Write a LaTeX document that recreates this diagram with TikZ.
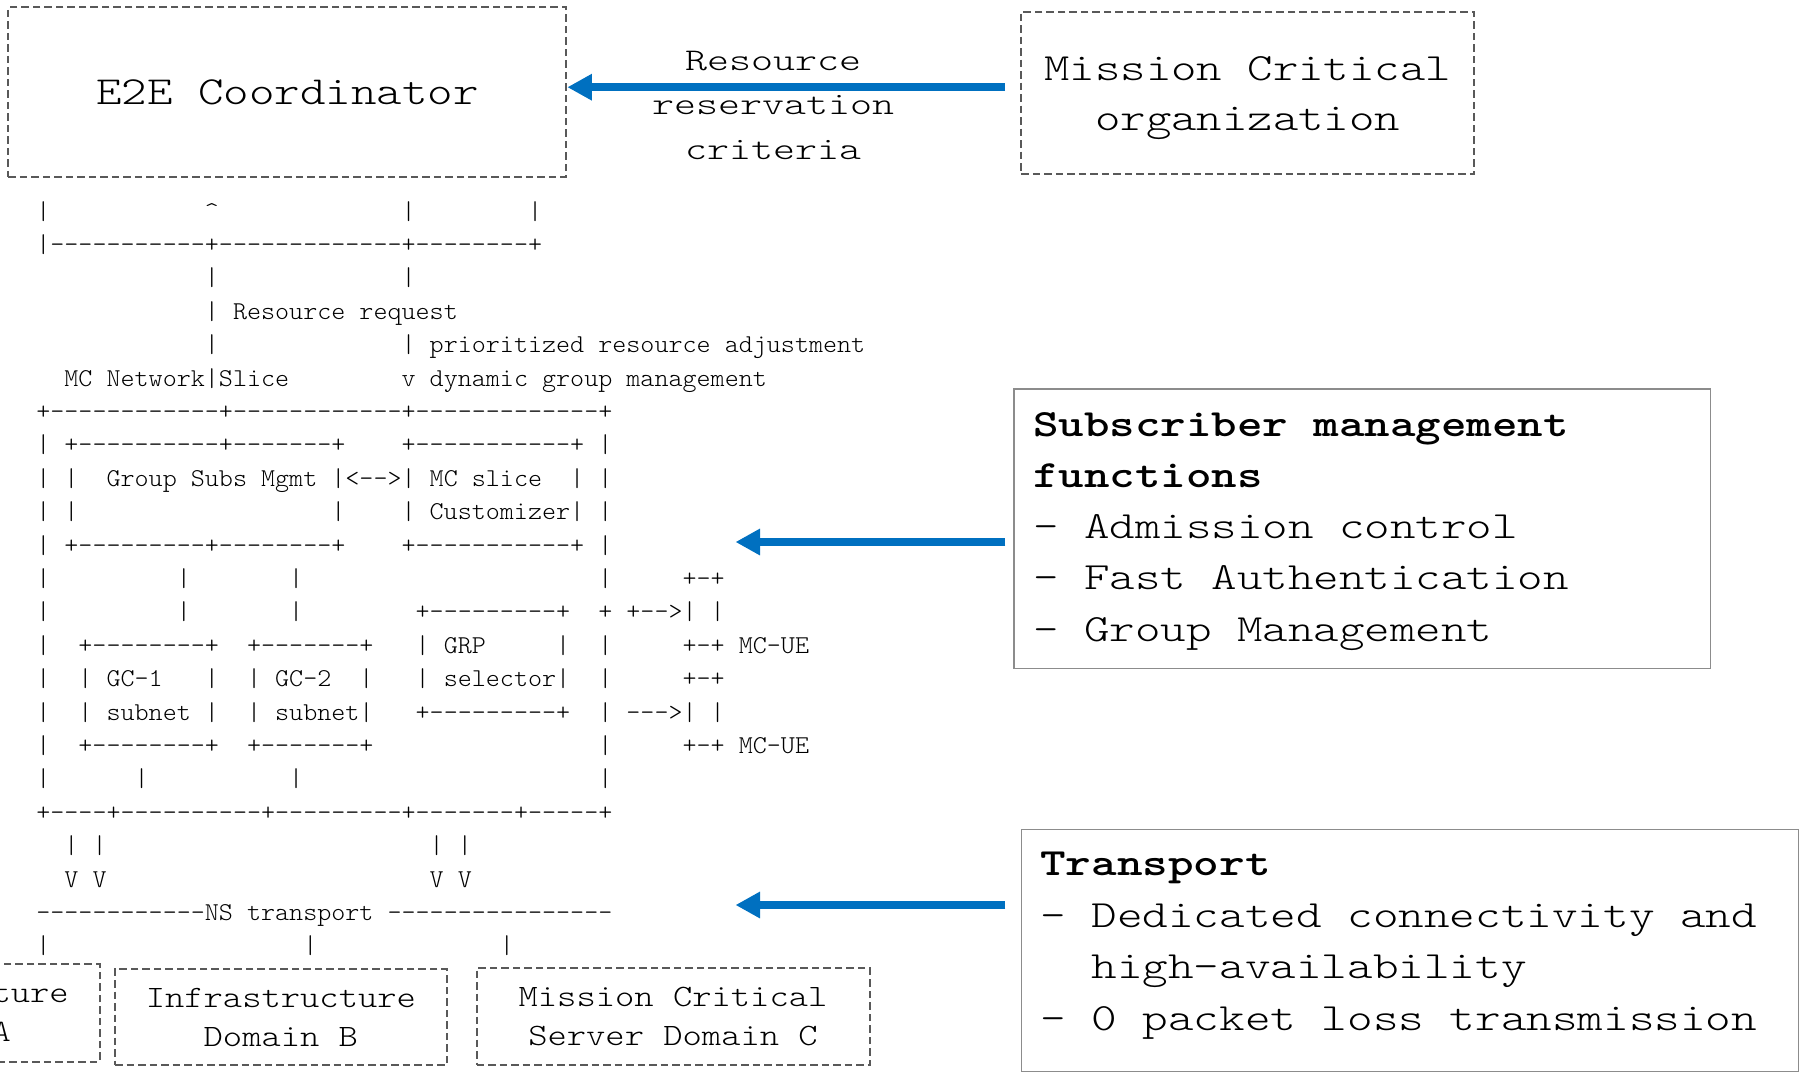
\documentclass[tikz,border=0pt]{standalone}
\usepackage{graphicx}
\usetikzlibrary{arrows.meta}

\definecolor{mcblue}{HTML}{0070C0}
\definecolor{boxgrey}{HTML}{595959}
\definecolor{framegrey}{HTML}{8C8C8C}

% runs of blanks and hyphens of fixed character width
\newcount\runcount
\newcommand\nblank[1]{\kern#1\fontcharwd\font`x\relax}
\newcommand\nhyph[1]{\runcount=#1\relax\loop\ifnum\runcount>0 -\kern0pt\advance\runcount by -1\relax\repeat}
% typeset text with a given character pitch (pt) by horizontal scaling
\newcommand\pitched[2]{\setbox0=\hbox{x}\edef\charwd{\the\wd0}\pgfmathsetmacro\pitchfactor{#1/\charwd}\scalebox{\pitchfactor}[1]{#2}}
% light typewriter face at a given size and line spacing
\newcommand\monofont[2]{\fontsize{#1}{#2}\ttfamily\fontseries{l}\selectfont}

\tikzset{
  dashbox/.style={draw=boxgrey, line width=2pt, dash pattern=on 7.5pt off 4pt, inner sep=0pt},
  solidbox/.style={draw=framegrey, line width=1.5pt, inner sep=0pt},
  asciiline/.style={anchor=west, inner sep=0pt, text height=14.9pt, text depth=0pt, font=\monofont{25.7}{33.4}},
  bluearrow/.style={draw=mcblue, line width=8.5pt, -{Triangle[length=24.5pt,width=25pt]}},
  plaintext/.style={inner sep=0pt},
  domfont/.style={plaintext, font=\monofont{31.1}{39}},
}

\begin{document}
\begin{tikzpicture}[x=1pt,y=1pt]
\useasboundingbox (0,0) rectangle (1803,-1074);
\clip (0,0) rectangle (1803,-1074);

% ---- boxes ----
\node[dashbox, minimum width=558, minimum height=169.4, font=\monofont{39.8}{48}] (e2e) at (287.4,-92)
  {\pitched{25.5}{E2E Coordinator}};

\node[dashbox, minimum width=452.6, minimum height=162.3] (mcorg) at (1247.7,-92.85) {};
\node[plaintext, font=\monofont{38.5}{50}] (mcorgtext) at ([yshift=-2.3pt]mcorg.center)
  {\pitched{25.4}{\begin{tabular}{@{}c@{}}Mission Critical\\organization\end{tabular}}};

\node[plaintext, font=\monofont{31.6}{44.6}] (rrc) at (773,-106)
  {\pitched{22}{\begin{tabular}{@{}c@{}}Resource\\reservation\\criteria\end{tabular}}};

\node[solidbox, minimum width=696.3, minimum height=279.3] (subs) at (1362.35,-528.65) {};
\node[plaintext, font=\monofont{38.5}{51.3}, anchor=west] (substext) at (1033,-528.4)
  {\pitched{25.5}{\begin{tabular}{@{}l@{}}\textbf{Subscriber management}\\\textbf{functions}\\- Admission control\\- Fast Authentication\\- Group Management\end{tabular}}};

\node[solidbox, minimum width=777.2, minimum height=242.4] (transp) at (1410.1,-950.5) {};
\node[plaintext, font=\monofont{38.5}{51.7}, anchor=west] (transptext) at (1040,-942.5)
  {\pitched{25.6}{\begin{tabular}{@{}l@{}}\textbf{Transport}\\- Dedicated connectivity and\\\nblank{2}high-availability\\- 0 packet loss transmission\end{tabular}}};

\node[dashbox, minimum width=331.7, minimum height=97.7] (domA) at (-66.3,-1012.85) {};
\node[domfont] (domAtext) at ([yshift=-1.7pt]domA.center)
  {\pitched{19.3}{\begin{tabular}{@{}c@{}}Infrastructure\\Domain A\end{tabular}}};
\node[dashbox, minimum width=331.7, minimum height=96] (domB) at (280.85,-1017) {};
\node[domfont] (domBtext) at ([yshift=-1.7pt]domB.center)
  {\pitched{19.3}{\begin{tabular}{@{}c@{}}Infrastructure\\Domain B\end{tabular}}};
\node[dashbox, minimum width=393, minimum height=97] (domC) at (673,-1016.5) {};
\node[domfont] (domCtext) at ([yshift=-1.7pt]domC.center)
  {\pitched{19.3}{\begin{tabular}{@{}c@{}}Mission Critical\\Server Domain C\end{tabular}}};

% ---- blue arrows ----
\coordinate (a1e) at ([yshift=4.8pt]e2e.east);
\coordinate (a2e) at (735.5,-542);
\coordinate (a3e) at (735.5,-905);
\draw[bluearrow] ([xshift=-15.4pt]mcorg.west |- a1e) -- (a1e);
\draw[bluearrow] ([xshift=-8.2pt]subs.west |- a2e) -- (a2e);
\draw[bluearrow] ([xshift=-15.5pt]transp.west |- a3e) -- (a3e);

% ---- ASCII slice diagram ----
\def\ax{36.1}
\node[asciiline] (r00) at (\ax,-211.6-33.4*0) {\pitched{14.05}{|\nblank{11}\textasciicircum\nblank{13}|\nblank{8}|}};
\node[asciiline] (r01) at (\ax,-211.6-33.4*1) {\pitched{14.05}{|\nhyph{11}+\nhyph{13}+\nhyph{8}+}};
\node[asciiline] (r02) at (\ax,-211.6-33.4*2) {\pitched{14.05}{\nblank{12}|\nblank{13}|}};
\node[asciiline] (r03) at (\ax,-211.6-33.4*3) {\pitched{14.05}{\nblank{12}|\nblank{1}Resource\nblank{1}request}};
\node[asciiline] (r04) at (\ax,-211.6-33.4*4) {\pitched{14.05}{\nblank{12}|\nblank{13}|\nblank{1}prioritized\nblank{1}resource\nblank{1}adjustment}};
\node[asciiline] (r05) at (\ax,-211.6-33.4*5) {\pitched{14.05}{\nblank{2}MC\nblank{1}Network|Slice\nblank{8}v\nblank{1}dynamic\nblank{1}group\nblank{1}management}};
\node[asciiline] (r06) at (\ax,-211.6-33.4*6) {\pitched{14.05}{+\nhyph{12}+\nhyph{12}+\nhyph{13}+}};
\node[asciiline] (r07) at (\ax,-211.6-33.4*7) {\pitched{14.05}{|\nblank{1}+\nhyph{10}+\nhyph{7}+\nblank{4}+\nhyph{11}+\nblank{1}|}};
\node[asciiline] (r08) at (\ax,-211.6-33.4*8) {\pitched{14.05}{|\nblank{1}|\nblank{2}Group\nblank{1}Subs\nblank{1}Mgmt\nblank{1}|<\nhyph{2}>|\nblank{1}MC\nblank{1}slice\nblank{2}|\nblank{1}|}};
\node[asciiline] (r09) at (\ax,-211.6-33.4*9) {\pitched{14.05}{|\nblank{1}|\nblank{18}|\nblank{4}|\nblank{1}Customizer|\nblank{1}|}};
\node[asciiline] (r10) at (\ax,-211.6-33.4*10) {\pitched{14.05}{|\nblank{1}+\nhyph{9}+\nhyph{8}+\nblank{4}+\nhyph{11}+\nblank{1}|}};
\node[asciiline] (r11) at (\ax,-211.6-33.4*11) {\pitched{14.05}{|\nblank{9}|\nblank{7}|\nblank{21}|\nblank{5}+\nhyph{1}+}};
\node[asciiline] (r12) at (\ax,-211.6-33.4*12) {\pitched{14.05}{|\nblank{9}|\nblank{7}|\nblank{8}+\nhyph{9}+\nblank{2}+\nblank{1}+\nhyph{2}>|\nblank{1}|}};
\node[asciiline] (r13) at (\ax,-211.6-33.4*13) {\pitched{14.05}{|\nblank{2}+\nhyph{8}+\nblank{2}+\nhyph{7}+\nblank{3}|\nblank{1}GRP\nblank{5}|\nblank{2}|\nblank{5}+\nhyph{1}+\nblank{1}MC-UE}};
\node[asciiline] (r14) at (\ax,-211.6-33.4*14) {\pitched{14.05}{|\nblank{2}|\nblank{1}GC-1\nblank{3}|\nblank{2}|\nblank{1}GC-2\nblank{2}|\nblank{3}|\nblank{1}selector|\nblank{2}|\nblank{5}+\nhyph{1}+}};
\node[asciiline] (r15) at (\ax,-211.6-33.4*15) {\pitched{14.05}{|\nblank{2}|\nblank{1}subnet\nblank{1}|\nblank{2}|\nblank{1}subnet|\nblank{3}+\nhyph{9}+\nblank{2}|\nblank{1}\nhyph{3}>|\nblank{1}|}};
\node[asciiline] (r16) at (\ax,-211.6-33.4*16) {\pitched{14.05}{|\nblank{2}+\nhyph{8}+\nblank{2}+\nhyph{7}+\nblank{16}|\nblank{5}+\nhyph{1}+\nblank{1}MC-UE}};
\node[asciiline] (r17) at (\ax,-211.6-33.4*17) {\pitched{14.05}{|\nblank{6}|\nblank{10}|\nblank{21}|}};
\node[asciiline] (r18) at (\ax,-211.6-33.4*18) {\pitched{14.05}{+\nhyph{4}+\nhyph{10}+\nhyph{9}+\nhyph{7}+\nhyph{5}+}};
\node[asciiline] (r19) at (\ax,-211.6-33.4*19) {\pitched{14.05}{\nblank{2}|\nblank{1}|\nblank{23}|\nblank{1}|}};
\node[asciiline] (r20) at (\ax,-211.6-33.4*20) {\pitched{14.05}{\nblank{2}V\nblank{1}V\nblank{23}V\nblank{1}V}};
\node[asciiline] (r21) at (\ax,-211.6-33.4*21) {\pitched{14.05}{\nhyph{12}NS\nblank{1}transport\nblank{1}\nhyph{16}}};
\node[asciiline] (r22) at (\ax,-211.6-33.4*22) {\pitched{14.05}{|\nblank{18}|\nblank{13}|}};
\end{tikzpicture}
\end{document}
